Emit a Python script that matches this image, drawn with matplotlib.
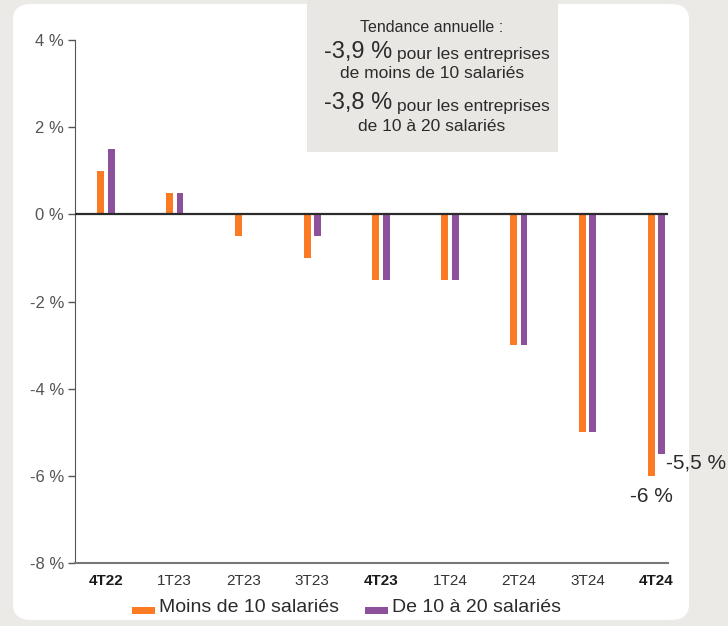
import matplotlib.pyplot as plt
import numpy as np
from matplotlib.patches import FancyBboxPatch, Rectangle

plt.rcParams['font.family'] = ['Liberation Sans', 'DejaVu Sans']

quarters = ['4T22', '1T23', '2T23', '3T23', '4T23', '1T24', '2T24', '3T24', '4T24']
bold_quarters = {'4T22', '4T23', '4T24'}
moins_10 = [1.0, 0.5, -0.5, -1.0, -1.5, -1.5, -3.0, -5.0, -6.0]
de_10_a_20 = [1.5, 0.5, 0.0, -0.5, -1.5, -1.5, -3.0, -5.0, -5.5]

orange = '#fb7a24'
violet = '#8d519c'
bg = '#ebeae6'

W, H = 728, 626
fig = plt.figure(figsize=(W / 100, H / 100), dpi=100)
fig.patch.set_facecolor(bg)

# white rounded panel
panel = FancyBboxPatch((13 / W, 1 - 620 / H), (689 - 13) / W, (620 - 4) / H,
                       boxstyle='round,pad=0,rounding_size=0.025',
                       transform=fig.transFigure, facecolor='white',
                       edgecolor='none', zorder=-2)
fig.patches.append(panel)

ax = fig.add_axes([75 / W, 1 - 563 / H, (668 - 75) / W, (563 - 40) / H])
ax.set_facecolor('none')
ax.set_zorder(3)

x = np.arange(len(quarters))
w = 0.1
off = 0.076
ax.bar(x - off, moins_10, w, color=orange, zorder=3)
ax.bar(x + off, de_10_a_20, w, color=violet, zorder=3)

ax.axhline(0, color='#2b2b2b', lw=1.6, zorder=4)
ax.set_xlim(-0.45, 8.17)
ax.set_ylim(-8, 4)
ax.set_yticks(np.arange(-8, 5, 2))
ax.set_yticklabels([f'{v} %' for v in range(-8, 5, 2)], fontsize=12, color='#555555')
ax.tick_params(axis='y', length=5, width=1, color='#555555', pad=3)
ax.set_xticks(x)
ax.set_xticklabels(quarters, fontsize=11, color='#333333')
for lbl in ax.get_xticklabels():
    if lbl.get_text() in bold_quarters:
        lbl.set_fontweight('bold')
        lbl.set_color('#1a1a1a')
ax.tick_params(axis='x', length=0, pad=8)

for s in ['top', 'right']:
    ax.spines[s].set_visible(False)
ax.spines['left'].set_color('#555555')
ax.spines['bottom'].set_color('#777777')
ax.spines['bottom'].set_linewidth(1.5)

# values of last quarter
ax.text(x[-1] - off, moins_10[-1] - 0.25, f'{moins_10[-1]:g} %'.replace('.', ','),
        ha='center', va='top', fontsize=15, color='#2b2b2b')
ax.text(x[-1] + off + 0.07, de_10_a_20[-1] - 0.2, f'{de_10_a_20[-1]:g} %'.replace('.', ','),
        ha='left', va='center', fontsize=15, color='#2b2b2b', clip_on=False)

# trend box
fig.patches.append(Rectangle((307 / W, 1 - 152 / H), (558 - 307) / W, 152 / H,
                             transform=fig.transFigure, facecolor='#e8e7e3',
                             edgecolor='none', zorder=-1))
cx = 432 / W
tc = '#2b2b2b'
fig.text(cx, 1 - 28 / H, 'Tendance annuelle :', ha='center', va='center', fontsize=11.5, color=tc)
fig.text(392 / W, 1 - 52 / H, '-3,9 %', ha='right', va='center', fontsize=17, color=tc)
fig.text(397 / W, 1 - 55 / H, 'pour les entreprises', ha='left', va='center', fontsize=12.5, color=tc)
fig.text(cx, 1 - 74 / H, 'de moins de 10 salariés', ha='center', va='center', fontsize=12.5, color=tc)
fig.text(392 / W, 1 - 103 / H, '-3,8 %', ha='right', va='center', fontsize=17, color=tc)
fig.text(397 / W, 1 - 106 / H, 'pour les entreprises', ha='left', va='center', fontsize=12.5, color=tc)
fig.text(cx, 1 - 126 / H, 'de 10 à 20 salariés', ha='center', va='center', fontsize=12.5, color=tc)

# legend
ly = 1 - 610 / H
fig.patches.append(Rectangle((132 / W, ly - 4 / H), 23 / W, 7 / H, transform=fig.transFigure,
                             facecolor=orange, edgecolor='none'))
fig.text(159 / W, ly + 2 / H, 'Moins de 10 salariés', ha='left', va='center', fontsize=14, color=tc)
fig.patches.append(Rectangle((365 / W, ly - 4 / H), 23 / W, 7 / H, transform=fig.transFigure,
                             facecolor=violet, edgecolor='none'))
fig.text(392 / W, ly + 2 / H, 'De 10 à 20 salariés', ha='left', va='center', fontsize=14, color=tc)

fig.savefig('out.png', dpi=100, facecolor=fig.get_facecolor())
